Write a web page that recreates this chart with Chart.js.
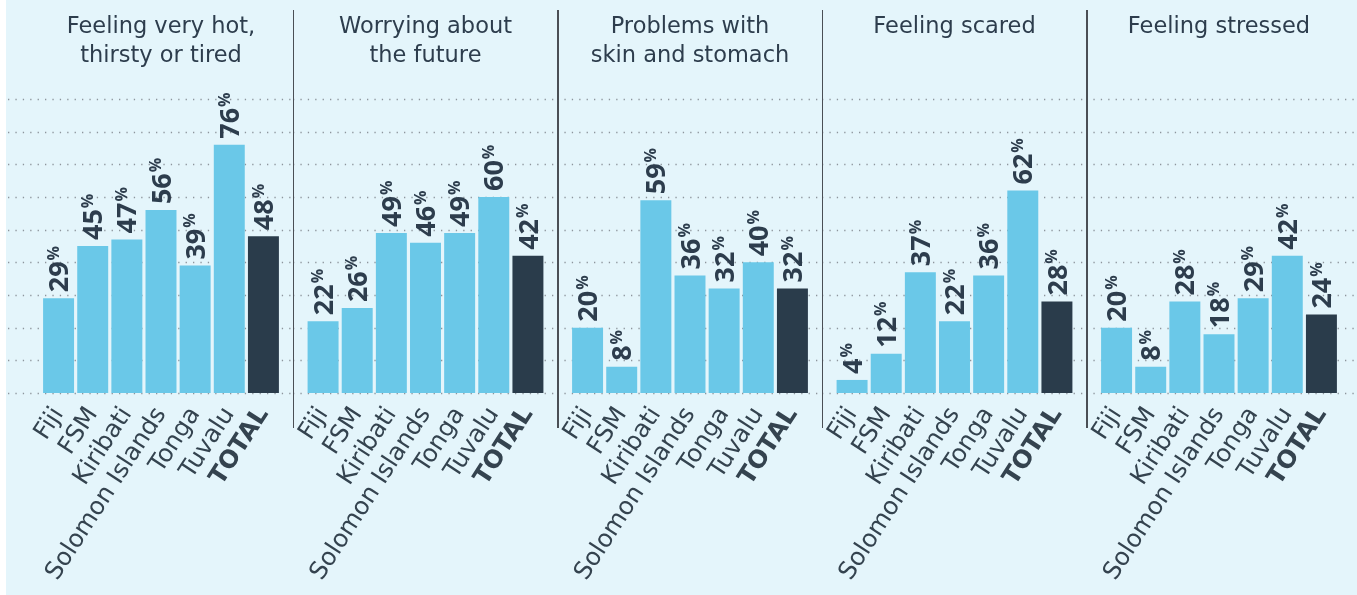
<!DOCTYPE html>
<html>
<head>
<meta charset="utf-8">
<title>Climate-related wellbeing impacts by country</title>
<script src="https://cdn.jsdelivr.net/npm/chart.js@4.4.1/dist/chart.umd.min.js"></script>
<style>
  html, body { margin: 0; padding: 0; background: #ffffff; }
  #board { position: absolute; left: 6px; top: 0; width: 1351px; height: 595px; background: #e4f5fb; }
  canvas.panel { position: absolute; top: 0; }
  .sep { position: absolute; top: 10px; height: 418px; width: 1.6px; background: #4a4f55; }
</style>
</head>
<body>
<div id="board"></div>

<script>
// Categories shared by every panel
const countries = ['Fiji', 'FSM', 'Kiribati', 'Solomon Islands', 'Tonga', 'Tuvalu', 'TOTAL'];

// Panel titles (each split into its display lines)
const titleHot      = ['Feeling very hot,', 'thirsty or tired'];
const titleWorry    = ['Worrying about', 'the future'];
const titleSkin     = ['Problems with', 'skin and stomach'];
const titleScared   = ['Feeling scared', ''];
const titleStressed = ['Feeling stressed', ''];

// Share of respondents reporting each impact (%)
const hotValues      = [29, 45, 47, 56, 39, 76, 48];
const worryValues    = [22, 26, 49, 46, 49, 60, 42];
const skinValues     = [20, 8, 59, 36, 32, 40, 32];
const scaredValues   = [4, 12, 37, 22, 36, 62, 28];
const stressedValues = [20, 8, 28, 18, 29, 42, 24];

// Value axis range and grid step (%)
const yMin = 0, yMax = 90, yStep = 10;

const TEXT = '#2d3d4d';
const BAR = '#6ac8e8';
const BAR_TOTAL = '#2a3c4b';
const FONT = '"DejaVu Sans", "Open Sans", sans-serif';
const LABEL_FONT = '"Open Sans", "DejaVu Sans", sans-serif';

// Horizontal dotted guides spanning the whole panel width
const dottedGuides = {
  id: 'dottedGuides',
  beforeDatasetsDraw(chart, args, opts) {
    const { ctx, scales: { y } } = chart;
    ctx.save();
    ctx.strokeStyle = '#8d959c';
    ctx.lineWidth = 1.3;
    ctx.setLineDash([1.3, 6.1]);
    for (let v = yMin; v <= yMax; v += yStep) {
      const py = Math.round(y.getPixelForValue(v)) + 0.5;
      ctx.beginPath();
      ctx.moveTo(opts.start || 0, py);
      ctx.lineTo(chart.width, py);
      ctx.stroke();
    }
    ctx.restore();
  }
};

// Rotated value labels above each bar, with a small raised percent sign
const valueLabels = {
  id: 'valueLabels',
  afterDatasetsDraw(chart) {
    const { ctx } = chart;
    const data = chart.data.datasets[0].data;
    chart.getDatasetMeta(0).data.forEach((bar, i) => {
      const num = String(data[i]);
      ctx.save();
      ctx.translate(bar.x, bar.y - 6);
      ctx.rotate(-Math.PI / 2);
      ctx.fillStyle = TEXT;
      ctx.textAlign = 'left';
      ctx.textBaseline = 'alphabetic';
      ctx.font = `bold 27px ${LABEL_FONT}`;
      const cap = 27 * 0.714;
      ctx.fillText(num, 0, cap / 2);
      const w = ctx.measureText(num).width;
      ctx.font = `bold 16px ${LABEL_FONT}`;
      ctx.fillText('%', w + 1, -cap / 2 - 1.5 + 16 * 0.714);
      ctx.restore();
    });
  }
};

// Panels: canvas left edge / width and chart-area padding
const panels = [
  { title: titleHot,      values: hotValues,      left: 6,    width: 287, padL: 35.5, padR: 12.5, guideStart: 2 },
  { title: titleWorry,    values: worryValues,    left: 293,  width: 264, padL: 13,   padR: 12 },
  { title: titleSkin,     values: skinValues,     left: 557,  width: 265, padL: 13.5, padR: 12.5 },
  { title: titleScared,   values: scaredValues,   left: 822,  width: 264, padL: 13,   padR: 12 },
  { title: titleStressed, values: stressedValues, left: 1086, width: 271, padL: 13.5, padR: 18.5 }
];

const separators = [292.5, 557, 821.5, 1086];

panels.forEach((p) => {
  const cv = document.createElement('canvas');
  cv.className = 'panel';
  cv.width = p.width;
  cv.height = 595;
  cv.style.left = p.left + 'px';
  cv.style.width = p.width + 'px';
  cv.style.height = '595px';
  document.body.appendChild(cv);

  new Chart(cv, {
    type: 'bar',
    data: {
      labels: countries,
      datasets: [{
        data: p.values,
        backgroundColor: countries.map(c => c === 'TOTAL' ? BAR_TOTAL : BAR),
        borderWidth: 0,
        barPercentage: 0.907,
        categoryPercentage: 1
      }]
    },
    plugins: [dottedGuides, valueLabels],
    options: {
      responsive: false,
      animation: false,
      devicePixelRatio: 1,
      layout: { padding: { left: p.padL, right: p.padR, top: 0, bottom: 0 } },
      plugins: {
        legend: { display: false },
        tooltip: { enabled: false },
        dottedGuides: { start: p.guideStart || 0 },
        title: {
          display: true,
          text: p.title,
          color: TEXT,
          font: { family: FONT, size: 22.5, weight: 'normal', lineHeight: 1.29 },
          padding: { top: 13, bottom: 28 }
        }
      },
      scales: {
        x: {
          grid: { display: false },
          border: { display: false },
          ticks: {
            color: '#34434f',
            autoSkip: false,
            minRotation: 57,
            maxRotation: 57,
            padding: 1,
            font: (c) => ({
              family: FONT,
              size: 24.5,
              weight: (c.tick && c.tick.label === 'TOTAL') ? 'bold' : 'normal'
            })
          },
          afterFit: (scale) => { scale.height = 202; }
        },
        y: { display: false, min: yMin, max: yMax }
      }
    }
  });
});

separators.forEach((x) => {
  const d = document.createElement('div');
  d.className = 'sep';
  d.style.left = x + 'px';
  document.body.appendChild(d);
});
</script>
</body>
</html>
